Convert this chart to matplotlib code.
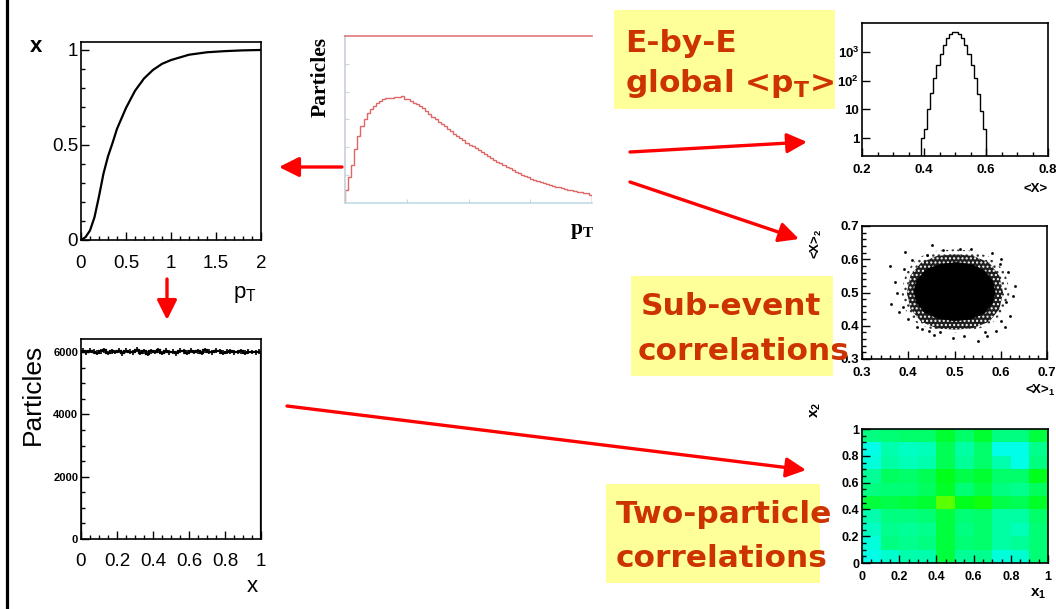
import numpy as np
import matplotlib
matplotlib.use('Agg')
import matplotlib.pyplot as plt
from matplotlib.patches import Rectangle, FancyArrowPatch, Polygon, ArrowStyle
from matplotlib.lines import Line2D
from matplotlib.colors import LinearSegmentedColormap
from matplotlib.ticker import MultipleLocator, LogLocator, NullFormatter, FixedLocator

W, H = 1056, 609

# cumulative fraction x as a function of pT
pt_grid = [0.0, 0.05, 0.1, 0.15, 0.2, 0.25, 0.3, 0.35, 0.4, 0.5, 0.6, 0.7,
           0.8, 0.9, 1.0, 1.2, 1.4, 1.6, 1.8, 2.0]
x_of_pt = [0.0, 0.015, 0.05, 0.12, 0.23, 0.35, 0.44, 0.51, 0.585, 0.695, 0.785,
           0.85, 0.895, 0.927, 0.947, 0.975, 0.988, 0.994, 0.998, 1.0]

# single-particle x distribution (flat), 50 bins on [0, 1]
x_counts = [6040, 5990, 6050, 6010, 5980, 6030, 6060, 5970, 6020, 6000,
            6050, 5960, 6040, 6010, 5990, 6070, 5980, 6020, 5950, 6030,
            6000, 6060, 5970, 6040, 5990, 6010, 5960, 6050, 6020, 5980,
            6040, 6000, 6030, 5970, 6060, 6010, 5990, 6040, 6020, 5980,
            6010, 6030, 5990, 6000, 6020, 5980, 6010, 6000, 5990, 6010]

# inclusive pT spectrum, 80 bins on [0, 4]
pt_counts = [0.45, 0.95, 1.35, 1.95, 2.40, 2.75, 3.00, 3.22, 3.38, 3.50,
             3.60, 3.68, 3.72, 3.76, 3.79, 3.78, 3.82, 3.80, 3.85, 3.74,
             3.72, 3.66, 3.60, 3.55, 3.47, 3.40, 3.30, 3.18, 3.10, 3.01,
             2.92, 2.83, 2.75, 2.66, 2.58, 2.49, 2.42, 2.33, 2.25, 2.17,
             2.10, 2.03, 1.97, 1.90, 1.82, 1.76, 1.69, 1.60, 1.53, 1.47,
             1.42, 1.36, 1.30, 1.24, 1.19, 1.12, 1.07, 1.02, 0.97, 0.93,
             0.88, 0.84, 0.80, 0.76, 0.72, 0.68, 0.65, 0.62, 0.59, 0.56,
             0.53, 0.50, 0.48, 0.45, 0.43, 0.41, 0.39, 0.37, 0.35, 0.30]

# event-wise <x>, 21 bins starting at 0.39
mean_x_edges_start, mean_x_width = 0.39, 0.01
mean_x_counts = [1, 2, 10, 36, 125, 350, 850, 1700, 2900, 4100, 4900,
                 4900, 4100, 2900, 1700, 850, 340, 120, 34, 9, 2]

# sub-event <x>_1 vs <x>_2 : dense core, speckled halo, stray events
core_x = [0.588, 0.582, 0.565, 0.540, 0.505, 0.470, 0.440, 0.420, 0.412,
          0.418, 0.435, 0.465, 0.500, 0.535, 0.565, 0.582]
core_y = [0.500, 0.535, 0.565, 0.583, 0.590, 0.585, 0.570, 0.540, 0.505,
          0.470, 0.440, 0.422, 0.415, 0.420, 0.438, 0.468]
dense_x = [0.605, 0.597, 0.575, 0.540, 0.502, 0.462, 0.428, 0.405, 0.397,
           0.405, 0.428, 0.462, 0.502, 0.540, 0.575, 0.597]
dense_y = [0.500, 0.550, 0.590, 0.610, 0.615, 0.610, 0.590, 0.552, 0.500,
           0.450, 0.412, 0.392, 0.388, 0.393, 0.412, 0.450]
halo_x = [0.620, 0.610, 0.580, 0.540, 0.500, 0.460, 0.420, 0.395, 0.385,
          0.395, 0.420, 0.460, 0.500, 0.540, 0.580, 0.607]
halo_y = [0.500, 0.560, 0.605, 0.625, 0.630, 0.625, 0.605, 0.560, 0.500,
          0.445, 0.405, 0.385, 0.380, 0.385, 0.405, 0.445]
stray_x = [0.360, 0.393, 0.371, 0.363, 0.451, 0.512, 0.551, 0.497, 0.616,
           0.626, 0.609, 0.469, 0.380, 0.390, 0.440, 0.580, 0.600, 0.630,
           0.620, 0.570, 0.520, 0.430, 0.400, 0.455, 0.590, 0.375, 0.408,
           0.476, 0.535, 0.598, 0.612, 0.388, 0.445, 0.565, 0.418, 0.600]
stray_y = [0.580, 0.622, 0.532, 0.465, 0.643, 0.631, 0.354, 0.363, 0.562,
           0.490, 0.396, 0.381, 0.440, 0.570, 0.612, 0.620, 0.600, 0.520,
           0.430, 0.370, 0.368, 0.390, 0.420, 0.372, 0.385, 0.500, 0.598,
           0.628, 0.632, 0.585, 0.470, 0.455, 0.385, 0.380, 0.395, 0.415]

# two-particle x1-x2 density, rows listed from x2 = 1 down to x2 = 0
pair_density = [
    [0.50, 0.55, 0.60, 0.60, 0.85, 0.60, 0.85, 0.50, 0.50, 0.80],
    [0.05, 0.30, 0.20, 0.25, 0.70, 0.35, 0.60, 0.05, 0.05, 0.45],
    [0.10, 0.35, 0.25, 0.30, 0.70, 0.40, 0.60, 0.30, 0.05, 0.50],
    [0.40, 0.65, 0.60, 0.70, 0.95, 0.75, 0.85, 0.60, 0.60, 0.95],
    [0.50, 0.55, 0.55, 0.65, 0.90, 0.55, 0.75, 0.50, 0.45, 0.65],
    [0.80, 0.75, 0.80, 0.85, 1.30, 0.95, 1.05, 0.75, 0.70, 0.90],
    [0.30, 0.50, 0.50, 0.55, 0.80, 0.55, 0.60, 0.35, 0.35, 0.60],
    [0.20, 0.45, 0.40, 0.45, 0.80, 0.50, 0.60, 0.35, 0.25, 0.55],
    [0.10, 0.50, 0.45, 0.50, 0.80, 0.55, 0.60, 0.35, 0.40, 0.55],
    [0.05, 0.15, 0.30, 0.30, 0.80, 0.40, 0.45, 0.10, 0.15, 0.55],
]

SANS = 'Liberation Sans'
SERIF = 'Liberation Serif'
BOX_FONT = 'DejaVu Sans'
ARROW_RED = '#FF0000'
TEXT_RED = '#CC3300'
BOX_YELLOW = '#FFFF99'

fig = plt.figure(figsize=(W / 100, H / 100), dpi=100)


def px_axes(x0, y0, x1, y1):
    return fig.add_axes([x0 / W, 1 - y1 / H, (x1 - x0) / W, (y1 - y0) / H])


def px_text(x, y, s, **kw):
    return fig.text(x / W, 1 - y / H, s, **kw)


def px(x, y):
    return (x / W, 1 - y / H)


def root_frame(ax, size, weight='normal', pad_x=4, pad_y=2):
    for sp in ax.spines.values():
        sp.set_linewidth(1.2)
        sp.set_color('black')
    ax.tick_params(which='both', direction='in', top=False, right=False,
                   width=1, colors='black')
    ax.tick_params(which='major', length=6)
    ax.tick_params(which='minor', length=3)
    ax.tick_params(axis='x', pad=pad_x)
    ax.tick_params(axis='y', pad=pad_y)
    for lab in ax.get_xticklabels() + ax.get_yticklabels():
        lab.set_fontfamily(SANS)
        lab.set_fontsize(size)
        lab.set_fontweight(weight)


# frame line on the left edge
fig.add_artist(Line2D([6.5 / W, 6.5 / W], [0, 1], color='black', lw=2.3))

# ---- x versus pT ----
ax1 = px_axes(81, 42, 261, 240)
ax1.plot(pt_grid, x_of_pt, color='black', lw=1.6)
ax1.set_xlim(0, 2)
ax1.set_ylim(0, 1.042)
ax1.set_xticks([0, 0.5, 1, 1.5, 2])
ax1.set_xticklabels(['0', '0.5', '1', '1.5', '2'])
ax1.set_yticks([0, 0.5, 1])
ax1.set_yticklabels(['0', '0.5', '1'])
ax1.xaxis.set_minor_locator(MultipleLocator(0.1))
ax1.yaxis.set_minor_locator(MultipleLocator(0.1))
root_frame(ax1, 13.5, pad_x=11, pad_y=2)
px_text(36, 47, 'x', fontsize=16, fontfamily=SANS, fontweight='bold',
        ha='center', va='center')
px_text(245, 294, r'p$_\mathregular{T}$', fontsize=16, fontfamily=SANS,
        ha='center', va='center')

# ---- flat x distribution ----
ax2 = px_axes(81, 339, 261, 539)
x_edges = np.linspace(0, 1, len(x_counts) + 1)
x_centres = 0.5 * (x_edges[:-1] + x_edges[1:])
ax2.stairs(x_counts, x_edges, color='black', lw=1.6)
ax2.errorbar(x_centres, x_counts, yerr=np.sqrt(x_counts), fmt='none',
             ecolor='black', elinewidth=1.2)
ax2.set_xlim(0, 1)
ax2.set_ylim(0, 6420)
ax2.set_xticks([0, 0.2, 0.4, 0.6, 0.8, 1])
ax2.set_xticklabels(['0', '0.2', '0.4', '0.6', '0.8', '1'])
ax2.set_yticks([0, 2000, 4000, 6000])
ax2.xaxis.set_minor_locator(MultipleLocator(0.05))
ax2.yaxis.set_minor_locator(MultipleLocator(500))
root_frame(ax2, 13.5, pad_x=10, pad_y=2)
for lab in ax2.get_yticklabels():
    lab.set_fontsize(8)
    lab.set_fontweight('bold')
px_text(33, 394, 'Particles', fontsize=19, fontfamily=SANS, rotation=90,
        ha='center', va='center')
px_text(252, 586, 'x', fontsize=16, fontfamily=SANS, ha='center', va='center')

# ---- inclusive pT spectrum ----
ax3 = px_axes(345, 36, 592, 203)
pt_edges = np.linspace(0, 4, len(pt_counts) + 1)
ax3.stairs(pt_counts, pt_edges, color='#E06666', lw=1.0, baseline=0)
ax3.set_xlim(0, 4)
ax3.set_ylim(0, 6)
ax3.set_xticks([1, 2, 3])
ax3.set_yticks([1, 2, 3, 4, 5])
ax3.tick_params(direction='in', length=3, colors='#C8D8E0',
                labelbottom=False, labelleft=False)
ax3.spines['right'].set_visible(False)
ax3.spines['top'].set_color('#E07878')
ax3.spines['left'].set_color('#C8D0D8')
ax3.spines['bottom'].set_color('#C0DCE4')
for sp in ax3.spines.values():
    sp.set_linewidth(1.2)
px_text(321, 77, 'Particles', fontsize=15.5, fontfamily=SERIF, fontweight='bold',
        rotation=90, ha='center', va='center')
px_text(582, 231, r'p$_\mathregular{T}$', fontsize=15.5, fontfamily=SERIF,
        fontweight='bold', ha='center', va='center')

# ---- event-wise <x> ----
ax4 = px_axes(862, 23, 1048, 156)
mx_edges = mean_x_edges_start + mean_x_width * np.arange(len(mean_x_counts) + 1)
ax4.stairs(mean_x_counts, mx_edges, color='black', lw=1.0, baseline=1e-2)
ax4.set_yscale('log')
ax4.set_xlim(0.2, 0.8)
ax4.set_ylim(0.24, 1e4)
ax4.set_xticks([0.2, 0.4, 0.6, 0.8])
ax4.set_xticklabels(['0.2', '0.4', '0.6', '0.8'])
ax4.xaxis.set_minor_locator(MultipleLocator(0.05))
ax4.yaxis.set_major_locator(FixedLocator([1, 10, 100, 1000]))
ax4.set_yticklabels(['1', '10', r'10$^\mathregular{2}$', r'10$^\mathregular{3}$'])
ax4.yaxis.set_minor_locator(LogLocator(base=10, subs=np.arange(2, 10)))
ax4.yaxis.set_minor_formatter(NullFormatter())
root_frame(ax4, 9.5, weight='bold', pad_x=6, pad_y=2)
px_text(1048, 189, '<X>', fontsize=9.5, fontfamily=SANS, fontweight='bold',
        ha='right', va='center')

# ---- sub-event correlation ----
ax5 = px_axes(862, 226, 1047, 359)
ax5.add_patch(Polygon(np.column_stack([halo_x, halo_y]), closed=True,
                      facecolor='none', edgecolor='#333333', lw=0, hatch='...'))
ax5.add_patch(Polygon(np.column_stack([dense_x, dense_y]), closed=True,
                      facecolor='#1e1e1e', edgecolor='white', lw=0, hatch='....'))
ax5.add_patch(Polygon(np.column_stack([core_x, core_y]), closed=True,
                      facecolor='black', edgecolor='black', lw=0.5))
ax5.plot(stray_x, stray_y, 's', color='black', markersize=0.9, lw=0)
ax5.set_xlim(0.3, 0.7)
ax5.set_ylim(0.3, 0.7)
ax5.set_xticks([0.3, 0.4, 0.5, 0.6, 0.7])
ax5.set_xticklabels(['0.3', '0.4', '0.5', '0.6', '0.7'])
ax5.set_yticks([0.3, 0.4, 0.5, 0.6, 0.7])
ax5.set_yticklabels(['0.3', '0.4', '0.5', '0.6', '0.7'])
ax5.xaxis.set_minor_locator(MultipleLocator(0.02))
ax5.yaxis.set_minor_locator(MultipleLocator(0.02))
root_frame(ax5, 9.5, weight='bold', pad_x=6, pad_y=2)
px_text(1040, 390, r'<X>$_\mathregular{1}$', fontsize=9.5, fontfamily=SANS,
        fontweight='bold', ha='center', va='center')
px_text(816, 244, r'<X>$_\mathregular{2}$', fontsize=9.5, fontfamily=SANS,
        fontweight='bold', rotation=90, ha='center', va='center')

# ---- two-particle correlation ----
ax6 = px_axes(862, 429, 1048, 563)
cmap = LinearSegmentedColormap.from_list(
    'cyan_green', [(0.0, '#00FFF0'), (0.5 / 1.3, '#00FF80'),
                   (1.0 / 1.3, '#00FF10'), (1.0, '#5AFF00')])
grid_edges = np.linspace(0, 1, 11)
ax6.pcolormesh(grid_edges, grid_edges, np.array(pair_density)[::-1],
               cmap=cmap, vmin=0, vmax=1.3, shading='flat')
ax6.set_xlim(0, 1)
ax6.set_ylim(0, 1)
ax6.set_xticks([0, 0.2, 0.4, 0.6, 0.8, 1])
ax6.set_xticklabels(['0', '0.2', '0.4', '0.6', '0.8', '1'])
ax6.set_yticks([0, 0.2, 0.4, 0.6, 0.8, 1])
ax6.set_yticklabels(['0', '0.2', '0.4', '0.6', '0.8', '1'])
ax6.xaxis.set_minor_locator(MultipleLocator(0.05))
ax6.yaxis.set_minor_locator(MultipleLocator(0.05))
root_frame(ax6, 9, weight='bold', pad_x=6, pad_y=2)
px_text(1038, 594, r'x$_\mathregular{1}$', fontsize=11, fontfamily=SANS,
        fontweight='bold', ha='center', va='center')
px_text(816, 410, r'x$_\mathregular{2}$', fontsize=11, fontfamily=SANS,
        fontweight='bold', rotation=90, ha='center', va='center')

# ---- captions on yellow boxes ----
boxes = [(614, 10, 835, 109), (631, 276, 833, 376), (606, 484, 820, 583)]
for x0, y0, x1, y1 in boxes:
    fig.add_artist(Rectangle(px(x0, y1), (x1 - x0) / W, (y1 - y0) / H,
                             transform=fig.transFigure, facecolor=BOX_YELLOW,
                             edgecolor='none', zorder=1))

captions = [(625, 52, 'E-by-E'),
            (625, 92, r'global <p$_\mathregular{T}$>'),
            (641, 315, 'Sub-event'),
            (638, 360, 'correlations'),
            (616, 523, 'Two-particle'),
            (616, 567, 'correlations')]
for x, y, s in captions:
    px_text(x, y, s, fontsize=22.5, fontfamily=BOX_FONT, fontweight='bold',
            color=TEXT_RED, ha='left', va='baseline', zorder=3)

# ---- arrows ----
arrows = [((342, 167), (279, 167)),
          ((167, 279), (167, 320)),
          ((630, 152), (807, 142)),
          ((630, 182), (799, 239)),
          ((287, 406), (806, 470))]
style = ArrowStyle('-|>', head_length=12, head_width=6)
for start, end in arrows:
    fig.add_artist(FancyArrowPatch(px(*start), px(*end),
                                   transform=fig.transFigure,
                                   arrowstyle=style, mutation_scale=1,
                                   color=ARROW_RED, lw=2.4,
                                   shrinkA=0, shrinkB=0, zorder=4))

fig.savefig('out.png', dpi=100)
